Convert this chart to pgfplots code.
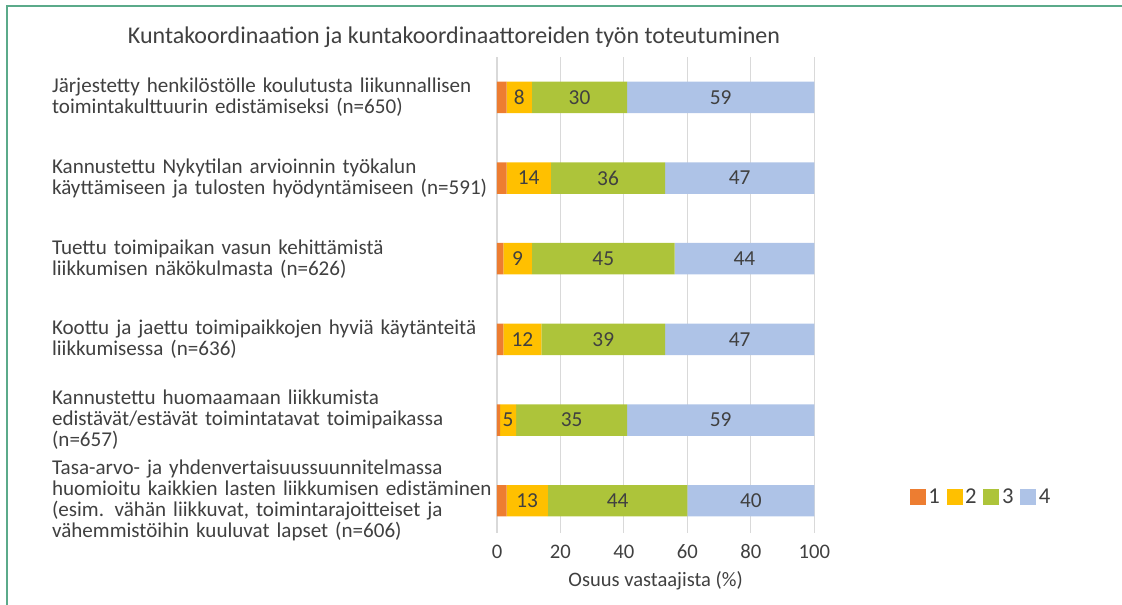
\documentclass[border=0pt]{standalone}
\usepackage{fontspec}
\setmainfont{Carlito}
\usepackage{pgfplots}
\pgfplotsset{compat=1.18}
\usepackage{pgfplotstable}

\definecolor{c1}{HTML}{ED7D31}
\definecolor{c2}{HTML}{FFC000}
\definecolor{c3}{HTML}{ADC43A}
\definecolor{c4}{HTML}{AEC3E7}
\definecolor{gridc}{HTML}{D9D9D9}
\definecolor{txt}{HTML}{404040}
\definecolor{frame}{HTML}{5BAA8A}

% osuudet (%) vastausvaihtoehdoittain 1-4
\pgfplotstableread{
y a b c d
0 3 8 30 59
1 3 14 36 47
2 2 9 45 44
3 2 12 39 47
4 1 5 35 59
5 3 13 44 40
}\osuudet

\begin{document}
\begin{tikzpicture}
\path[use as bounding box] (0,0) rectangle (841.5pt,-453.75pt);
\draw[frame, line width=1.3pt] (5.25pt,-453.75pt) -- (5.25pt,-4.5pt) -- (841.5pt,-4.5pt);
\node[anchor=base, text=txt, font=\fontsize{18}{20}\selectfont] at (340.5pt,-32.5pt)
  {Kuntakoordinaation ja kuntakoordinaattoreiden työn toteutuminen};
\begin{axis}[
  at={(372.75pt,-399.75pt)}, anchor=south west,
  width=237.975pt, height=357pt, scale only axis,
  xbar stacked, bar width=0.39,
  xmin=0, xmax=100, ymin=-0.5, ymax=5.4, y dir=reverse,
  xtick={0,20,...,100}, ytick={0,...,5},
  xmajorgrids, grid style={gridc, line width=0.8pt},
  axis line style={draw=none}, major tick length=0pt,
  /pgf/number format/assume math mode=true,
  tick label style={text=txt},
  xticklabel style={font=\fontsize{15.5}{18}\selectfont, anchor=base, yshift=-18.75pt},
  yticklabel style={font=\fontsize{15.8}{15.75}\selectfont, text width=333.5pt, align=left, inner sep=0pt},
  yticklabels={
    {Järjestetty henkilöstölle koulutusta liikunnallisen\\toimintakulttuurin edistämiseksi (n=650)},
    {Kannustettu Nykytilan arvioinnin työkalun\\käyttämiseen ja tulosten hyödyntämiseen (n=591)},
    {Tuettu toimipaikan vasun kehittämistä\\liikkumisen näkökulmasta (n=626)},
    {Koottu ja jaettu toimipaikkojen hyviä käytänteitä\\liikkumisessa (n=636)},
    {Kannustettu huomaamaan liikkumista\\edistävät/estävät toimintatavat toimipaikassa\\(n=657)},
    {Tasa-arvo- ja yhdenvertaisuussuunnitelmassa\\huomioitu kaikkien lasten liikkumisen edistäminen\\(esim. vähän liikkuvat, toimintarajoitteiset ja\\vähemmistöihin kuuluvat lapset (n=606)}
  },
  xlabel={Osuus vastaajista (\%)},
  xlabel style={at={(axis description cs:0.5,0)}, anchor=base, yshift=-40.1pt, text=txt, font=\fontsize{15.4}{18}\selectfont},
  point meta=explicit symbolic,
  nodes near coords={\pgfplotspointmeta},
  every node near coord/.append style={anchor=center, text=txt, font=\fontsize{16}{18}\selectfont},
  legend columns=4,
  legend style={at={(axis description cs:1.30,0.0756)}, anchor=west, draw=none, fill=none,
    font=\fontsize{17}{18}\selectfont, text=txt, inner xsep=0pt,
    /tikz/every even column/.append style={column sep=3pt}},
  legend image code/.code={\fill[#1] (0pt,-6pt) rectangle (12pt,6pt);},
]
\addplot[fill=c1, draw=none, nodes near coords=\empty] table[x=a, y=y, meta=a] {\osuudet};
\addplot[fill=c2, draw=none] table[x=b, y=y, meta=b] {\osuudet};
\addplot[fill=c3, draw=none] table[x=c, y=y, meta=c] {\osuudet};
\addplot[fill=c4, draw=none] table[x=d, y=y, meta=d] {\osuudet};
\legend{1,2,3,4}
\end{axis}
\end{tikzpicture}
\end{document}
